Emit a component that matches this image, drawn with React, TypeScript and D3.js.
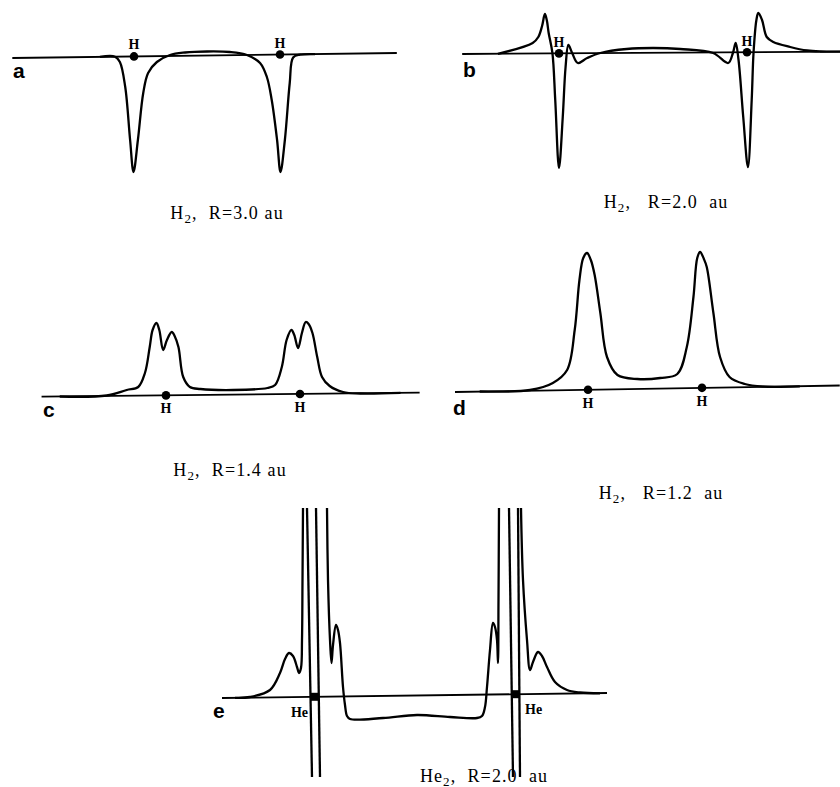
import React from 'react';
import * as d3 from 'd3';

// x in au along the bond axis, y in arbitrary units (baseline = 0)

// panel a : H2, R=3.0 au
const atomsA = [-1.5, 1.5];
const axisA = [[-4.0, -0.025], [3.9, 0.025]];
const curveA = [
  [-2.2, -0.014], [-1.89, -0.012], [-1.79, -0.065], [-1.68, -0.315], [-1.58, -0.845],
  [-1.51, -1.165], [-1.42, -0.845], [-1.31, -0.375], [-1.21, -0.175], [-1.03, -0.065],
  [-0.76, 0.005], [-0.45, 0.03], [0, 0.04], [0.47, 0.035], [0.82, 0.005],
  [1.09, -0.075], [1.23, -0.215], [1.33, -0.445], [1.44, -0.845], [1.51, -1.165],
  [1.6, -0.845], [1.7, -0.275], [1.77, -0.02], [1.91, 0.008], [2.22, 0.014],
];

// panel b : H2, R=2.0 au
const atomsB = [-1.0, 1.0];
const axisB = [[-2.03, -0.01], [1.99, 0.013]];
const curveB = [
  [-1.65, -0.008], [-1.28, 0.1], [-1.22, 0.16], [-1.18, 0.27], [-1.15, 0.39], [-1.13, 0.33],
  [-1.11, 0.2], [-1.07, 0], [-1.04, -0.47], [-1.0, -1.15], [-0.96, -0.64],
  [-0.93, -0.14], [-0.9, 0.08], [-0.86, 0], [-0.8, -0.1], [-0.7, -0.05],
  [-0.56, 0], [-0.28, 0.04], [0, 0.05], [0.29, 0.04], [0.64, 0], [0.8, -0.1],
  [0.85, 0], [0.88, 0.1], [0.91, -0.07], [0.96, -0.64], [1.01, -1.14],
  [1.05, -0.47], [1.07, 0.01], [1.1, 0.33], [1.12, 0.4], [1.16, 0.33],
  [1.21, 0.16], [1.28, 0.11], [1.46, 0.06], [1.64, 0.025], [1.78, 0.015], [1.99, 0.013],
];

// panel c : H2, R=1.4 au
const atomsC = [-0.7, 0.7];
const axisC = [[-2.0, -0.022], [1.95, 0.018]];
const curveC = [
  [-1.81, -0.02], [-1.32, -0.01], [-1.11, 0.045], [-0.99, 0.075], [-0.92, 0.215],
  [-0.87, 0.475], [-0.84, 0.645], [-0.8, 0.715], [-0.77, 0.645], [-0.73, 0.445],
  [-0.69, 0.545], [-0.64, 0.625], [-0.61, 0.585], [-0.57, 0.475], [-0.52, 0.175],
  [-0.45, 0.075], [-0.34, 0.055], [0, 0.045], [0.36, 0.065], [0.44, 0.095],
  [0.51, 0.275], [0.56, 0.545], [0.61, 0.645], [0.64, 0.595], [0.68, 0.465],
  [0.72, 0.615], [0.76, 0.725], [0.79, 0.705], [0.83, 0.615], [0.88, 0.375],
  [0.93, 0.175], [1.01, 0.085], [1.15, 0.025], [1.33, 0.01], [1.75, 0.016],
];

// panel d : H2, R=1.2 au
const atomsD = [-0.6, 0.6];
const axisD = [[-2.0, -0.035], [2.05, 0.03]];
const curveD = [
  [-1.74, -0.03], [-1.21, -0.015], [-0.97, 0.055], [-0.82, 0.185], [-0.74, 0.585],
  [-0.69, 1.085], [-0.65, 1.305], [-0.61, 1.355], [-0.57, 1.285], [-0.53, 1.135],
  [-0.47, 0.755], [-0.4, 0.315], [-0.29, 0.135], [-0.08, 0.095], [0.16, 0.105],
  [0.34, 0.145], [0.44, 0.415], [0.51, 0.915], [0.55, 1.305], [0.58, 1.365],
  [0.62, 1.295], [0.65, 1.215], [0.72, 0.755], [0.79, 0.315], [0.89, 0.115],
  [1.05, 0.045], [1.24, 0.02], [1.63, 0.022],
];

// panel e : He2, R=2.0 au (branches cut off at the frame top / bottom)
const atomsE = [-1.0, 1.0];
const axisE = [[-1.93, -0.025], [1.92, 0.025]];
const curveE = [
  [
    [-1.8, -0.023], [-1.65, -0.015], [-1.45, 0.055], [-1.35, 0.225], [-1.3, 0.365],
    [-1.26, 0.425], [-1.22, 0.395], [-1.18, 0.285], [-1.16, 0.225], [-1.14, 0.275],
    [-1.13, 0.555], [-1.125, 1.155], [-1.12, 1.875],
  ],
  [[-1.08, 1.875], [-1.03, -0.815]],
  [[-0.99, 1.875], [-0.95, -0.815]],
  [
    [-0.88, 1.875], [-0.87, 1.155], [-0.85, 0.555], [-0.835, 0.325], [-0.82, 0.505],
    [-0.79, 0.705], [-0.77, 0.655], [-0.75, 0.525], [-0.72, 0.085], [-0.7, -0.095],
    [-0.68, -0.205], [-0.65, -0.235], [-0.32, -0.225], [0.02, -0.195], [0.35, -0.215],
    [0.62, -0.225], [0.67, -0.205], [0.7, -0.115], [0.72, 0.085], [0.75, 0.455],
    [0.78, 0.725], [0.8, 0.685], [0.82, 0.555], [0.83, 0.325], [0.835, 0.955],
    [0.84, 1.875],
  ],
  [[0.94, 1.875], [0.98, -0.815]],
  [[1.03, 1.875], [1.05, -0.815]],
  [
    [1.06, 1.875], [1.08, 1.155], [1.12, 0.555], [1.15, 0.255], [1.18, 0.335],
    [1.23, 0.435], [1.27, 0.395], [1.32, 0.285], [1.4, 0.135], [1.52, 0.055],
    [1.65, 0.03], [1.85, 0.022],
  ],
];

const letters = ['a', 'b', 'c', 'd', 'e'];
const atomNames = ['H', 'H', 'H', 'H', 'He'];
const molecules = [['H', '2'], ['H', '2'], ['H', '2'], ['H', '2'], ['He', '2']];
const captionRest = [',  R=3.0 au', ',   R=2.0  au', ',  R=1.4 au', ',   R=1.2  au', ',  R=2.0  au'];

// layout of each panel on the page
const panels = [
  { curves: [curveA], atoms: atomsA, axis: axisA, xr: [134, 280], y0: 55.5,
    letter: [13, 78], labDy: -7, labDx: [0, 0], cap: [227, 219], square: false },
  { curves: [curveB], atoms: atomsB, axis: axisB, xr: [559, 747], y0: 53,
    letter: [463, 77], labDy: -6, labDx: [0, 0], cap: [666, 208], square: false },
  { curves: [curveC], atoms: atomsC, axis: axisC, xr: [166, 300], y0: 394.5,
    letter: [43, 417], labDy: 18, labDx: [0, 0], cap: [230, 476], square: false },
  { curves: [curveD], atoms: atomsD, axis: axisD, xr: [588, 702], y0: 388.5,
    letter: [453, 415], labDy: 18, labDx: [0, 0], cap: [661, 499], square: false },
  { curves: curveE, atoms: atomsE, axis: axisE, xr: [315, 515], y0: 695.5,
    letter: [213, 718], labDy: 20, labDx: [-7, 10], cap: [484, 782], square: true },
];

function Panel({ p, i }) {
  const x = d3.scaleLinear().domain([p.atoms[0], p.atoms[1]]).range(p.xr);
  const y = d3.scaleLinear().domain([0, 1]).range([p.y0, p.y0 - 100]);
  const line = d3.line().x(d => x(d[0])).y(d => y(d[1])).curve(d3.curveCatmullRom.alpha(0.5));
  const axisAt = d3.scaleLinear().domain([p.axis[0][0], p.axis[1][0]]).range([p.axis[0][1], p.axis[1][1]]);
  const serif = '"Liberation Serif", "Times New Roman", serif';

  return (
    <g>
      <line x1={x(p.axis[0][0])} y1={y(p.axis[0][1])} x2={x(p.axis[1][0])} y2={y(p.axis[1][1])}
        stroke="#000" strokeWidth={1.8} />
      {p.curves.map((c, k) => (
        <path key={k} d={line(c)} fill="none" stroke="#000" strokeWidth={2.3} strokeLinejoin="round" />
      ))}
      {p.atoms.map((a, k) => {
        const cx = x(a), cy = y(axisAt(a));
        return (
          <g key={k}>
            {p.square
              ? <rect x={cx - 4} y={cy - 4} width={8} height={8} fill="#000" />
              : <circle cx={cx} cy={cy} r={4.3} fill="#000" />}
            <text x={cx + p.labDx[k]} y={cy + p.labDy} fontFamily={serif} fontSize={14} fontWeight="bold"
              textAnchor={p.square ? (k === 0 ? 'end' : 'start') : 'middle'}>{atomNames[i]}</text>
          </g>
        );
      })}
      <text x={p.letter[0]} y={p.letter[1]} fontFamily='"Liberation Sans", Arial, sans-serif'
        fontSize={21} fontWeight="bold">{letters[i]}</text>
      <text x={p.cap[0]} y={p.cap[1]} fontFamily={serif} fontSize={18} letterSpacing={1.1}
        textAnchor="middle" style={{ whiteSpace: 'pre' }}>
        {molecules[i][0]}
        <tspan fontSize={13} dy={3.5}>{molecules[i][1]}</tspan>
        <tspan dy={-3.5}>{captionRest[i]}</tspan>
      </text>
    </g>
  );
}

export default function App() {
  return (
    <svg width={840} height={787} style={{ position: 'absolute', left: 0, top: 0, background: '#fff' }}>
      <rect width={840} height={787} fill="#fff" />
      {panels.map((p, i) => <Panel key={i} p={p} i={i} />)}
    </svg>
  );
}
